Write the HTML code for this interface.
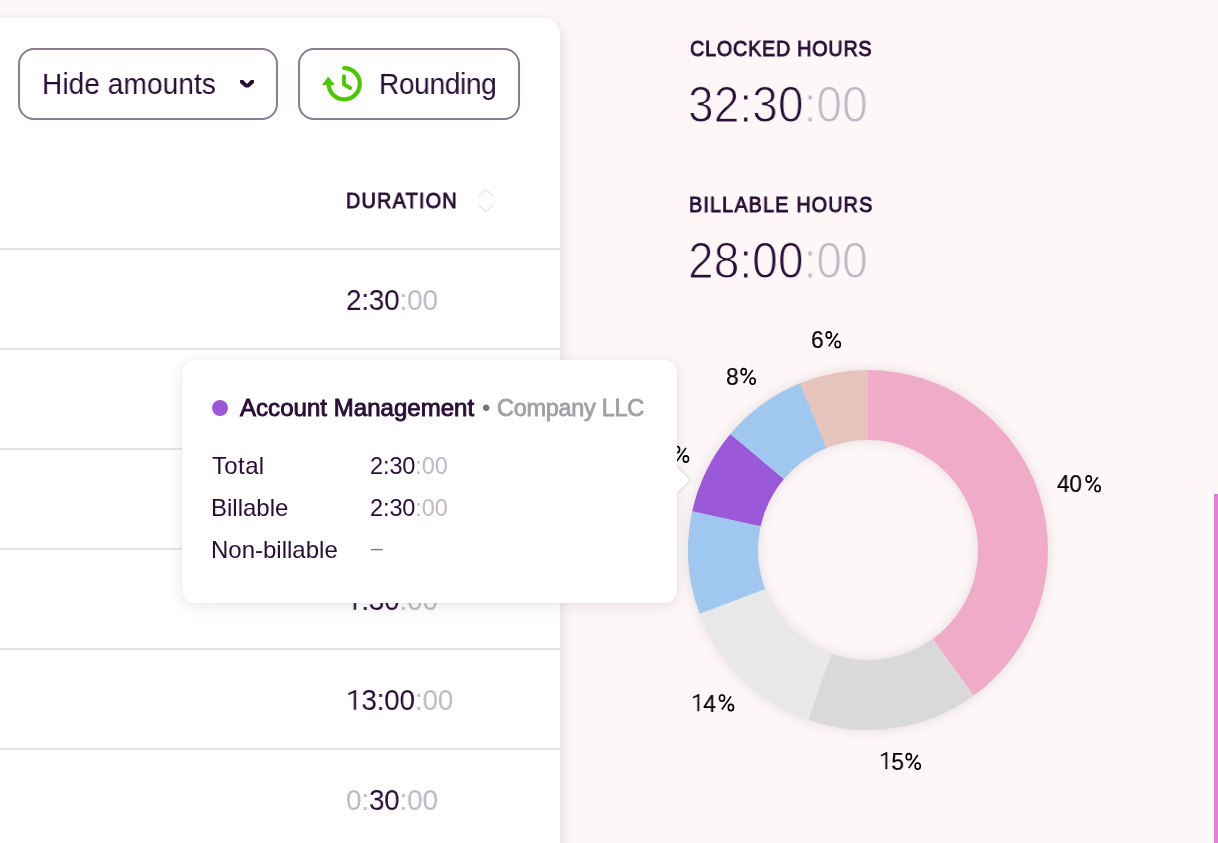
<!DOCTYPE html>
<html><head><meta charset="utf-8"><style>
*{margin:0;padding:0;box-sizing:border-box}
html,body{width:1218px;height:843px;overflow:hidden;background:#fdf7f7;font-family:"Liberation Sans",sans-serif;color:#2a0d36}
.a{position:absolute}
.card{position:absolute;left:-40px;top:18px;width:600px;height:900px;background:#fff;border-radius:16px;box-shadow:2px 4px 12px rgba(50,20,30,0.11)}
.btn{position:absolute;top:48px;height:72px;border:2px solid #8a7b91;border-radius:16px;background:#fff}
.t,.lbl{position:absolute;white-space:nowrap;line-height:1;will-change:transform}
.lbl{color:#000}
.g{color:#c0b8c6}
.line{position:absolute;left:0;width:560px;height:1.5px;background:#e4e3e4}
.tip{position:absolute;left:181.5px;top:359.5px;width:495.5px;height:243px;background:#fff;border-radius:13px;box-shadow:0 3px 16px rgba(40,30,70,0.10),0 0 3px rgba(40,30,70,0.05)}
</style></head><body>
<div class="card"></div>
<div class="btn" style="left:18px;width:260px"></div>
<div class="btn" style="left:298px;width:222px"></div>
<svg class="a" style="left:0;top:0" width="300" height="120"><path d="M240.1 80.1L243.1 80.1L247 84L250.9 80.1L253.9 80.1L253.9 82.9L248.6 87.6L245.4 87.6L240.1 82.9Z" fill="#2a0d36"/></svg>
<svg class="a" style="left:316px;top:62px" width="52" height="44" viewBox="316 62 52 44">
<path d="M344.2 68.2A15.6 15.6 0 1 1 328.6 83.8" fill="none" stroke="#4bc800" stroke-width="4.2" stroke-linecap="round"/>
<path d="M322.8 84.6L328.4 77.2L334 84.6Z" fill="#4bc800" stroke="#4bc800" stroke-width="1" stroke-linejoin="round"/>
<path d="M344 76.2V84.4L350.2 88" fill="none" stroke="#4bc800" stroke-width="3.8" stroke-linecap="round" stroke-linejoin="round"/>
</svg>
<svg class="a" style="left:476px;top:186px" width="20" height="30" viewBox="0 0 20 30"><path d="M3.5 9.5L10 3.5L16.5 9.5M3.5 19.5L10 25.5L16.5 19.5" fill="none" stroke="#eeeaef" stroke-width="2" stroke-linecap="round" stroke-linejoin="round"/></svg>
<div class="line" style="top:248.2px"></div>
<div class="line" style="top:348.2px"></div>
<div class="line" style="top:448.2px"></div>
<div class="line" style="top:548.2px"></div>
<div class="line" style="top:648.2px"></div>
<div class="line" style="top:748.2px"></div>
<div class="t" style="left:42px;top:69px;font-size:29.5px;letter-spacing:0.1px;transform:scaleX(0.95);transform-origin:0 0">Hide amounts</div>
<div class="t" style="left:379px;top:69px;font-size:29.5px;letter-spacing:-0.33px;transform:scaleX(0.95);transform-origin:0 0">Rounding</div>
<div class="t" style="left:346px;top:190px;font-size:22px;letter-spacing:1.37px;-webkit-text-stroke:0.9px #2a0d36;transform:scaleX(0.9);transform-origin:0 0">DURATION</div>
<div class="t" style="left:346.4px;top:285px;font-size:30px;letter-spacing:-0.2px;transform:scaleX(0.93);transform-origin:0 0">2:30<span class="g">:00</span></div>
<div class="t" style="left:346.4px;top:385px;font-size:30px;letter-spacing:-0.2px;transform:scaleX(0.93);transform-origin:0 0">2:30<span class="g">:00</span></div>
<div class="t" style="left:346.4px;top:485px;font-size:30px;letter-spacing:-0.2px;transform:scaleX(0.93);transform-origin:0 0">3:30<span class="g">:00</span></div>
<div class="t" style="left:346.4px;top:585px;font-size:30px;letter-spacing:-0.2px;transform:scaleX(0.93);transform-origin:0 0"><svg width="16.48" height="20.50" style="vertical-align:baseline;overflow:visible"><path d="M10.86 0.10L10.86 19.70L8.39 19.70L8.39 2.80L2.37 5.20L2.37 3.30L9.89 0.10Z" fill="currentColor"/></svg>:30<span class="g">:00</span></div>
<div class="t" style="left:346.4px;top:685px;font-size:30px;letter-spacing:-0.2px;transform:scaleX(0.93);transform-origin:0 0"><svg width="16.48" height="20.50" style="vertical-align:baseline;overflow:visible"><path d="M10.86 0.10L10.86 19.70L8.39 19.70L8.39 2.80L2.37 5.20L2.37 3.30L9.89 0.10Z" fill="currentColor"/></svg>3:00<span class="g">:00</span></div>
<div class="t" style="left:346.4px;top:785px;font-size:30px;letter-spacing:-0.2px;transform:scaleX(0.93);transform-origin:0 0"><span class="g">0:</span>30<span class="g">:00</span></div>
<div class="t" style="left:689.5px;top:38px;font-size:22px;letter-spacing:0.82px;-webkit-text-stroke:0.9px #2a0d36;transform:scaleX(0.9);transform-origin:0 0">CLOCKED HOURS</div>
<div class="t" style="left:687.7px;top:80px;font-size:50px;letter-spacing:0.1px;-webkit-text-stroke:1.1px #fdf7f7;transform:scaleX(0.92);transform-origin:0 0">32:30<span class="g">:00</span></div>
<div class="t" style="left:689.2px;top:194px;font-size:22px;letter-spacing:1.28px;-webkit-text-stroke:0.9px #2a0d36;transform:scaleX(0.9);transform-origin:0 0">BILLABLE HOURS</div>
<div class="t" style="left:687.7px;top:236px;font-size:50px;letter-spacing:0.1px;-webkit-text-stroke:1.1px #fdf7f7;transform:scaleX(0.92);transform-origin:0 0">28:00<span class="g">:00</span></div>
<svg class="a" style="left:0;top:0;filter:drop-shadow(0 0 6px rgba(80,40,60,0.15))" width="1218" height="843">
<path d="M868.00 370.00A180 180 0 0 1 973.80 695.62L932.66 638.99A110 110 0 0 0 868.00 440.00Z" fill="#f0abc8"/>
<path d="M973.80 695.62A180 180 0 0 1 808.26 719.80L831.49 653.76A110 110 0 0 0 932.66 638.99Z" fill="#d9d9d9"/>
<path d="M808.26 719.80A180 180 0 0 1 699.70 613.83L765.15 589.01A110 110 0 0 0 831.49 653.76Z" fill="#e8e8e8"/>
<path d="M699.70 613.83A180 180 0 0 1 692.24 511.16L760.59 526.26A110 110 0 0 0 765.15 589.01Z" fill="#9fc7ef"/>
<path d="M692.24 511.16A180 180 0 0 1 730.42 433.93L783.93 479.07A110 110 0 0 0 760.59 526.26Z" fill="#9b59d9"/>
<path d="M730.42 433.93A180 180 0 0 1 800.12 383.29L826.52 448.12A110 110 0 0 0 783.93 479.07Z" fill="#9fc7ef"/>
<path d="M800.12 383.29A180 180 0 0 1 868.00 370.00L868.00 440.00A110 110 0 0 0 826.52 448.12Z" fill="#e6c4bb"/>
</svg>
<div class="lbl" style="left:1057.0px;top:472px;font-size:24.5px;transform:scaleX(0.93);transform-origin:0 0;-webkit-text-stroke:0.2px #000;letter-spacing:-0.4px">40</div>
<div class="lbl" style="left:878.5px;top:750px;font-size:24.5px;transform:scaleX(0.93);transform-origin:0 0;-webkit-text-stroke:0.2px #000;letter-spacing:-0.4px"><svg width="13.22" height="17.94" style="vertical-align:baseline;overflow:visible"><path d="M8.84 0.09L8.84 17.24L6.83 17.24L6.83 2.45L1.93 4.55L1.93 2.89L8.05 0.09Z" fill="currentColor"/></svg>5</div>
<div class="lbl" style="left:690.7px;top:692px;font-size:24.5px;transform:scaleX(0.93);transform-origin:0 0;-webkit-text-stroke:0.2px #000;letter-spacing:-0.4px"><svg width="13.22" height="17.94" style="vertical-align:baseline;overflow:visible"><path d="M8.84 0.09L8.84 17.24L6.83 17.24L6.83 2.45L1.93 4.55L1.93 2.89L8.05 0.09Z" fill="currentColor"/></svg>4</div>
<div class="lbl" style="left:656.4px;top:443px;font-size:24.5px;transform:scaleX(0.93);transform-origin:0 0;-webkit-text-stroke:0.2px #000">8</div>
<div class="lbl" style="left:725.6px;top:365px;font-size:24.5px;transform:scaleX(0.93);transform-origin:0 0;-webkit-text-stroke:0.2px #000">8</div>
<div class="lbl" style="left:810.6px;top:328px;font-size:24.5px;transform:scaleX(0.93);transform-origin:0 0;-webkit-text-stroke:0.2px #000">6</div>
<svg class="a" style="left:0;top:0" width="1218" height="843" fill="none" stroke="#000" stroke-width="1.6"><g transform="translate(1085.3 475.1)"><ellipse cx="3.4" cy="3.9" rx="2.6" ry="3.1"/><ellipse cx="12.3" cy="13.3" rx="2.6" ry="3.1"/><path d="M3.3 15.3L12.4 2.2"/></g><g transform="translate(905.4 752.8)"><ellipse cx="3.4" cy="3.9" rx="2.6" ry="3.1"/><ellipse cx="12.3" cy="13.3" rx="2.6" ry="3.1"/><path d="M3.3 15.3L12.4 2.2"/></g><g transform="translate(718.6 694.2)"><ellipse cx="3.4" cy="3.9" rx="2.6" ry="3.1"/><ellipse cx="12.3" cy="13.3" rx="2.6" ry="3.1"/><path d="M3.3 15.3L12.4 2.2"/></g><g transform="translate(673.6 445.7)"><ellipse cx="3.4" cy="3.9" rx="2.6" ry="3.1"/><ellipse cx="12.3" cy="13.3" rx="2.6" ry="3.1"/><path d="M3.3 15.3L12.4 2.2"/></g><g transform="translate(740.3 367.8)"><ellipse cx="3.4" cy="3.9" rx="2.6" ry="3.1"/><ellipse cx="12.3" cy="13.3" rx="2.6" ry="3.1"/><path d="M3.3 15.3L12.4 2.2"/></g><g transform="translate(825.4 331.1)"><ellipse cx="3.4" cy="3.9" rx="2.6" ry="3.1"/><ellipse cx="12.3" cy="13.3" rx="2.6" ry="3.1"/><path d="M3.3 15.3L12.4 2.2"/></g></svg>
<div class="tip"></div>
<svg class="a" style="left:675px;top:464px" width="20" height="32" viewBox="0 0 20 32"><path d="M1.5 1.5L16 16L1.5 30.5" fill="#fff" stroke="#dcdadc" stroke-width="1.2"/><rect x="0" y="0" width="2" height="32" fill="#fff"/></svg>
<div class="a" style="left:212px;top:400px;width:16px;height:16px;border-radius:50%;background:#9b59d9"></div>
<div class="t" style="left:240.3px;top:396px;font-size:24px;letter-spacing:0.04px;-webkit-text-stroke:0.9px #2a0d36">Account Management</div>
<div class="t" style="left:482.2px;top:396px;font-size:24px;color:#7b6b85">&bull;</div>
<div class="t" style="left:496.9px;top:397px;font-size:23.5px;color:#a19fa3;letter-spacing:-0.3px;-webkit-text-stroke:0.8px #a19fa3">Company LLC</div>
<div class="t" style="left:211.7px;top:454px;font-size:24px;letter-spacing:0.37px">Total</div>
<div class="t" style="left:211px;top:496px;font-size:24px;">Billable</div>
<div class="t" style="left:211px;top:538px;font-size:24px;letter-spacing:0px">Non-billable</div>
<div class="t" style="left:370px;top:455px;font-size:23.5px;letter-spacing:-0.1px">2:30<span class="g">:00</span></div>
<div class="t" style="left:370px;top:497px;font-size:23.5px;letter-spacing:-0.1px">2:30<span class="g">:00</span></div>
<div class="t" style="left:371px;top:537px;font-size:21px;color:#7b7b7b">&ndash;</div>
<div class="a" style="left:1208px;top:494px;width:6px;height:349px;background:#fff"></div>
<div class="a" style="left:1214px;top:494px;width:4px;height:349px;background:#e47fd8"></div>
</body></html>
